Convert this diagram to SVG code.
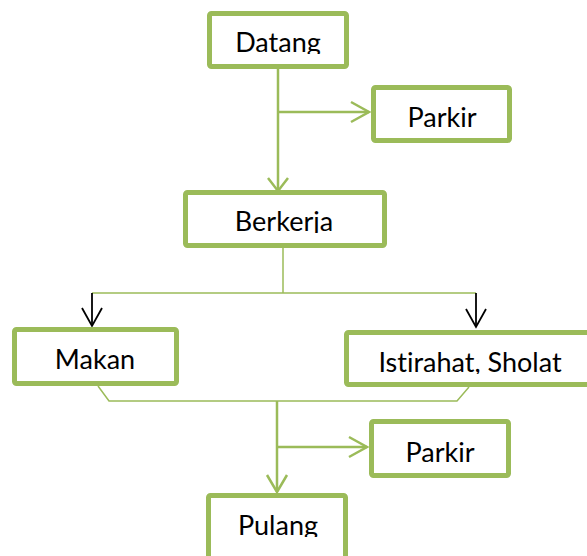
<svg xmlns="http://www.w3.org/2000/svg" width="587" height="556" viewBox="0 0 587 556">
<style>
.box{fill:#fff;stroke:#9BBB59;stroke-width:5}
.lbl{font-family:Lato,"Open Sans",sans-serif;font-size:27px;fill:#000;text-anchor:middle;font-variant-ligatures:none}
.c{fill:none;stroke:#9BBB59;stroke-width:2.5}
.t{fill:none;stroke:#9BBB59;stroke-width:1.5}
.k{fill:none;stroke:#000;stroke-width:1.8}
</style>
<defs>
<clipPath id="c1" clipPathUnits="userSpaceOnUse"><rect x="200" y="0" width="160" height="54"/></clipPath>
<clipPath id="c2" clipPathUnits="userSpaceOnUse"><rect x="180" y="180" width="210" height="53"/></clipPath>
<clipPath id="c3" clipPathUnits="userSpaceOnUse"><rect x="340" y="320" width="250" height="54"/></clipPath>
<clipPath id="c4" clipPathUnits="userSpaceOnUse"><rect x="200" y="490" width="160" height="47"/></clipPath>
</defs>
<rect width="587" height="556" fill="#fff"/>
<g id="connectors">
<line class="c" x1="278" y1="69" x2="278" y2="191"/>
<polyline class="c" points="268,178 278,191 288,178"/>
<line class="c" x1="278" y1="112" x2="369" y2="112"/>
<polyline class="c" points="351,102 369,112 351,122"/>
<line class="t" x1="283" y1="248" x2="283" y2="293"/>
<line class="t" x1="92" y1="293" x2="476" y2="293"/>
<line class="k" x1="92" y1="293" x2="92" y2="326"/>
<polyline class="k" points="82,308 92,326 102,308"/>
<line class="k" x1="476" y1="293" x2="476" y2="327"/>
<polyline class="k" points="466,309 476,327 486,309"/>
<polyline class="t" points="98,386 109,401 457,401 469,387"/>
<line class="c" x1="277" y1="401" x2="277" y2="492"/>
<polyline class="c" points="267,475 277,492 287,475"/>
<line class="c" x1="277" y1="447" x2="367" y2="447"/>
<polyline class="c" points="349,437 367,447 349,457"/>
</g>
<g id="datang">
<rect class="box" x="209.5" y="13.5" width="137" height="53" rx="2"/>
<text class="lbl" x="278" y="52" clip-path="url(#c1)">Datang</text>
</g>
<g id="parkir1">
<rect class="box" x="373.5" y="87.5" width="136" height="53" rx="2"/>
<text class="lbl" x="442" y="127">Parkir</text>
</g>
<g id="berkerja">
<rect class="box" x="185.5" y="192.5" width="199" height="53" rx="2"/>
<text class="lbl" x="284" y="231" clip-path="url(#c2)">Berkerja</text>
</g>
<g id="makan">
<rect class="box" x="14.5" y="329.5" width="162" height="54" rx="2"/>
<text class="lbl" x="95" y="369">Makan</text>
</g>
<g id="istirahat">
<rect class="box" x="346.5" y="332.5" width="260" height="52" rx="2"/>
<text class="lbl" x="470" y="372" clip-path="url(#c3)">Istirahat, Sholat</text>
</g>
<g id="parkir2">
<rect class="box" x="371.5" y="421.5" width="137" height="54" rx="2"/>
<text class="lbl" x="440" y="462">Parkir</text>
</g>
<g id="pulang">
<rect class="box" x="208.5" y="495.5" width="137" height="80" rx="2"/>
<text class="lbl" x="278" y="535" clip-path="url(#c4)">Pulang</text>
</g>
</svg>
